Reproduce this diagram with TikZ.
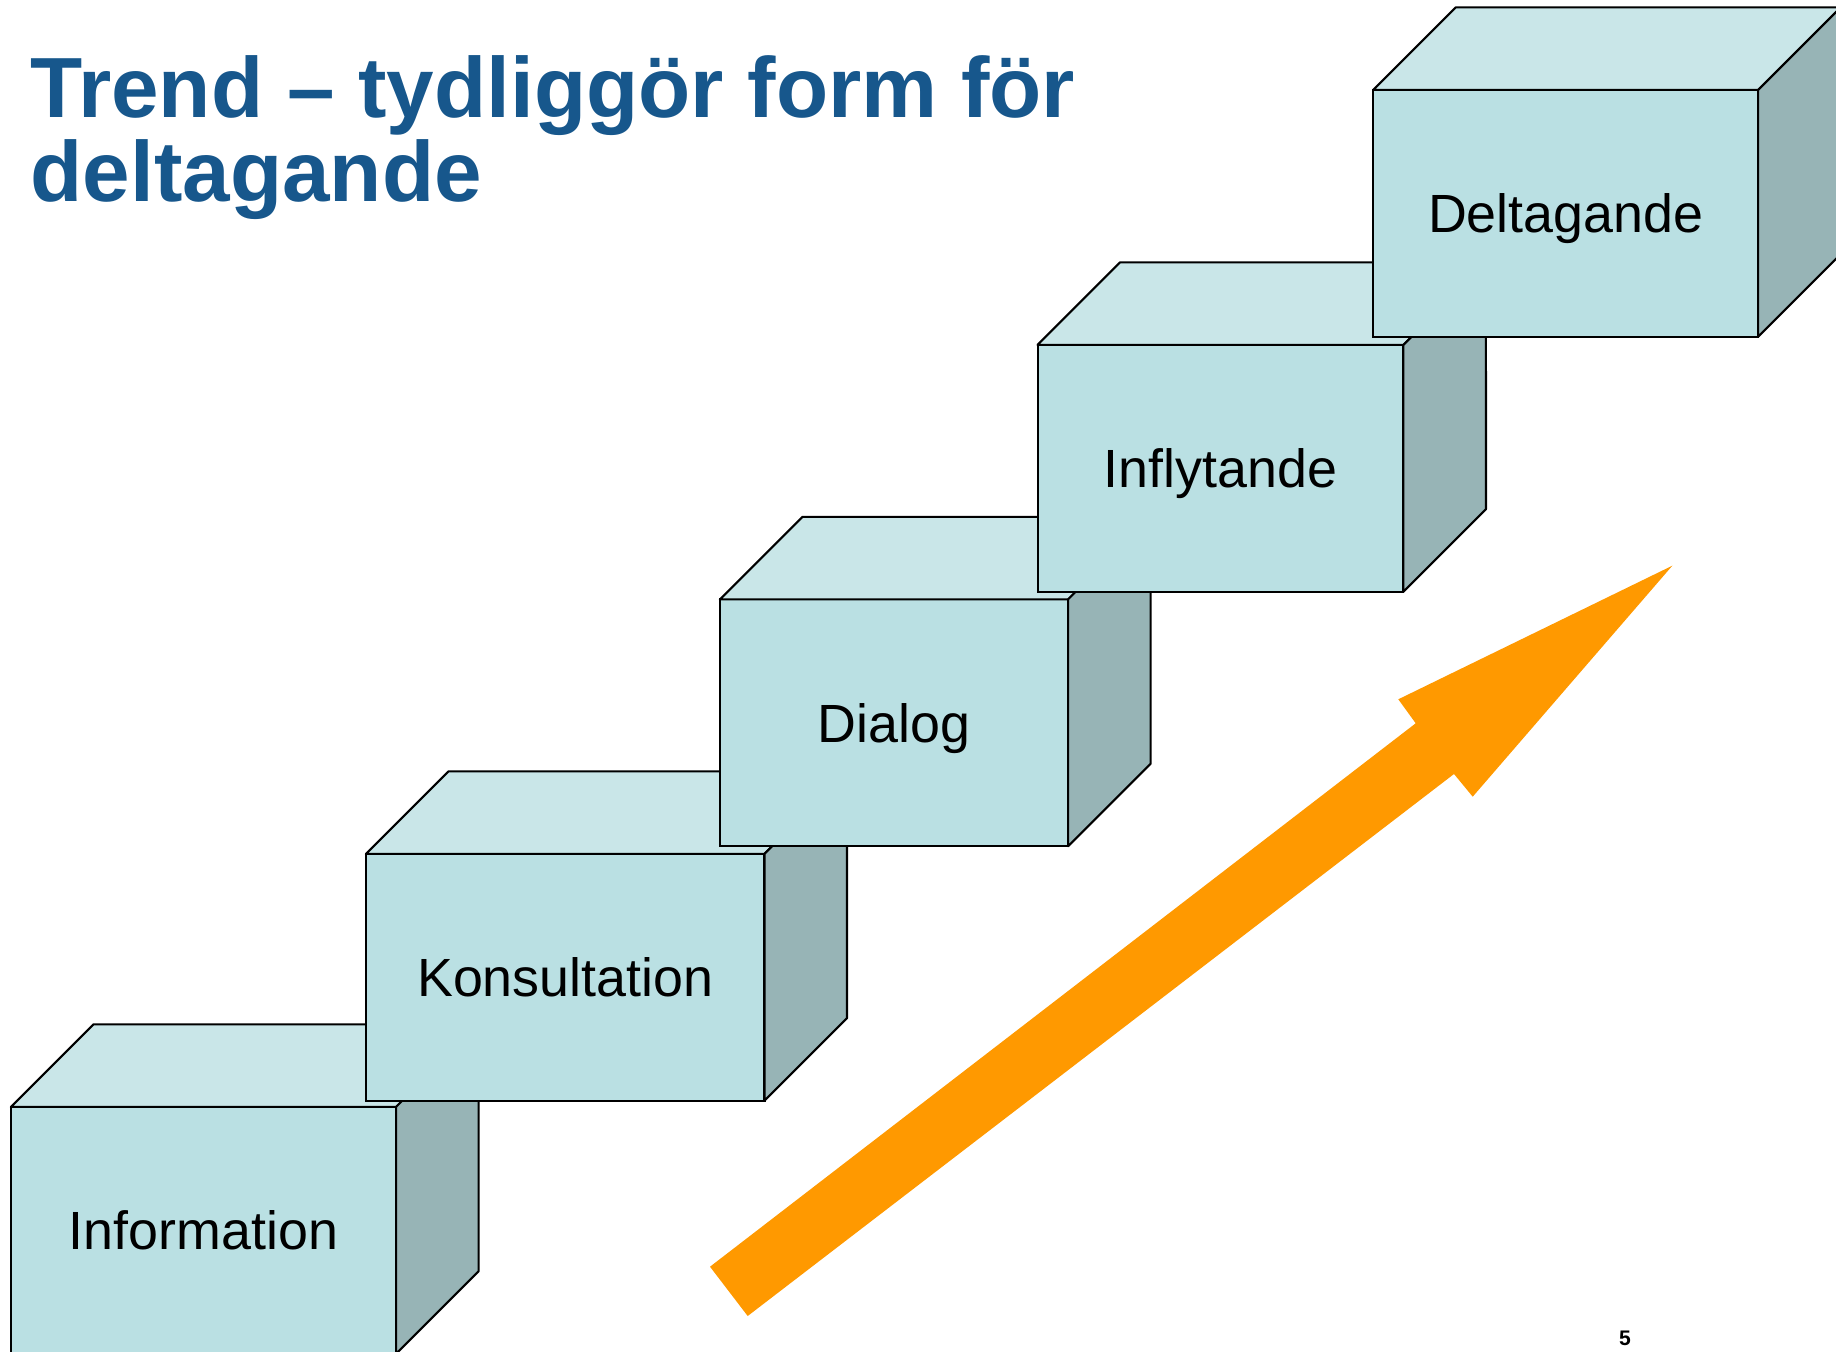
\documentclass[tikz,border=0pt]{standalone}
\usepackage{fontspec}
\setmainfont{Liberation Sans}
\usepackage{tikz}

\definecolor{titleblue}{HTML}{17578C}
\definecolor{frontcol}{HTML}{BAE0E3}
\definecolor{topcol}{HTML}{C9E6E8}
\definecolor{sidecol}{HTML}{97B4B6}
\definecolor{arroworange}{HTML}{FF9900}

\tikzset{
    front/.style = {draw, fill = frontcol, line width = 0.6pt, minimum height = 2.467cm,
        inner sep = 0, outer sep = 0, text depth = 0pt, font = \fontsize{15.3}{17}\selectfont},
    topface/.style = {draw, fill = topcol, line width = 0.6pt, line join = round},
    sideface/.style = {draw, fill = sidecol, line width = 0.6pt, line join = round}
}

\begin{document}
\begin{tikzpicture}[x = 0.01cm, y = -0.01cm]
        \useasboundingbox (0, 0) rectangle (1836, 1352);
        \node [anchor = base west, align = left, inner sep = 0, text = titleblue, font = \fontsize{24.3}{22.3}\selectfont\bfseries] (title) at (30, 201.4) {Trend – tydliggör form för\\deltagande};
        \node [front, minimum width = 3.85cm] (info) at (203.5, 1230.3) {Information};
        \draw [topface] (info.north west) -- ++(82.5, -82.5) -- ([xshift = 0.825cm, yshift = 0.825cm] info.north east) -- (info.north east) -- cycle;
        \draw [sideface] (info.north east) -- ++(82.5, -82.5) -- ([xshift = 0.825cm, yshift = 0.825cm] info.south east) -- (info.south east) -- cycle;
        \node [front, minimum width = 3.983cm] (kons) at (565.2, 977.3) {Konsultation};
        \draw [topface] (kons.north west) -- ++(82.5, -82.5) -- ([xshift = 0.825cm, yshift = 0.825cm] kons.north east) -- (kons.north east) -- cycle;
        \draw [sideface] (kons.north east) -- ++(82.5, -82.5) -- ([xshift = 0.825cm, yshift = 0.825cm] kons.south east) -- (kons.south east) -- cycle;
        \node [front, minimum width = 3.48cm] (dialog) at (894, 722.8) {Dialog};
        \draw [topface] (dialog.north west) -- ++(82.5, -82.5) -- ([xshift = 0.825cm, yshift = 0.825cm] dialog.north east) -- (dialog.north east) -- cycle;
        \draw [sideface] (dialog.north east) -- ++(82.5, -82.5) -- ([xshift = 0.825cm, yshift = 0.825cm] dialog.south east) -- (dialog.south east) -- cycle;
        \node [front, minimum width = 3.656cm] (infl) at (1220.5, 468.3) {Inflytande};
        \draw [topface] (infl.north west) -- ++(82.5, -82.5) -- ([xshift = 0.825cm, yshift = 0.825cm] infl.north east) -- (infl.north east) -- cycle;
        \draw [sideface] (infl.north east) -- ++(82.5, -82.5) -- ([xshift = 0.825cm, yshift = 0.825cm] infl.south east) -- (infl.south east) -- cycle;
        \node [front, minimum width = 3.847cm] (delt) at (1565.7, 213.3) {Deltagande};
        \draw [topface] (delt.north west) -- ++(82.5, -82.5) -- ([xshift = 0.825cm, yshift = 0.825cm] delt.north east) -- (delt.north east) -- cycle;
        \draw [sideface] (delt.north east) -- ++(82.5, -82.5) -- ([xshift = 0.825cm, yshift = 0.825cm] delt.south east) -- (delt.south east) -- cycle;
        \fill [arroworange] (710, 1266.7) -- (1415.7, 723.3) -- (1398.3, 699.3) -- (1672.3, 565.7) -- (1472.7, 796.7) -- (1454, 774) -- (747.7, 1316) -- cycle;
        \node [font = \fontsize{6}{7}\selectfont\bfseries] (pagenum) at (1625, 1338.5) {5};
    \end{tikzpicture}
\end{document}
